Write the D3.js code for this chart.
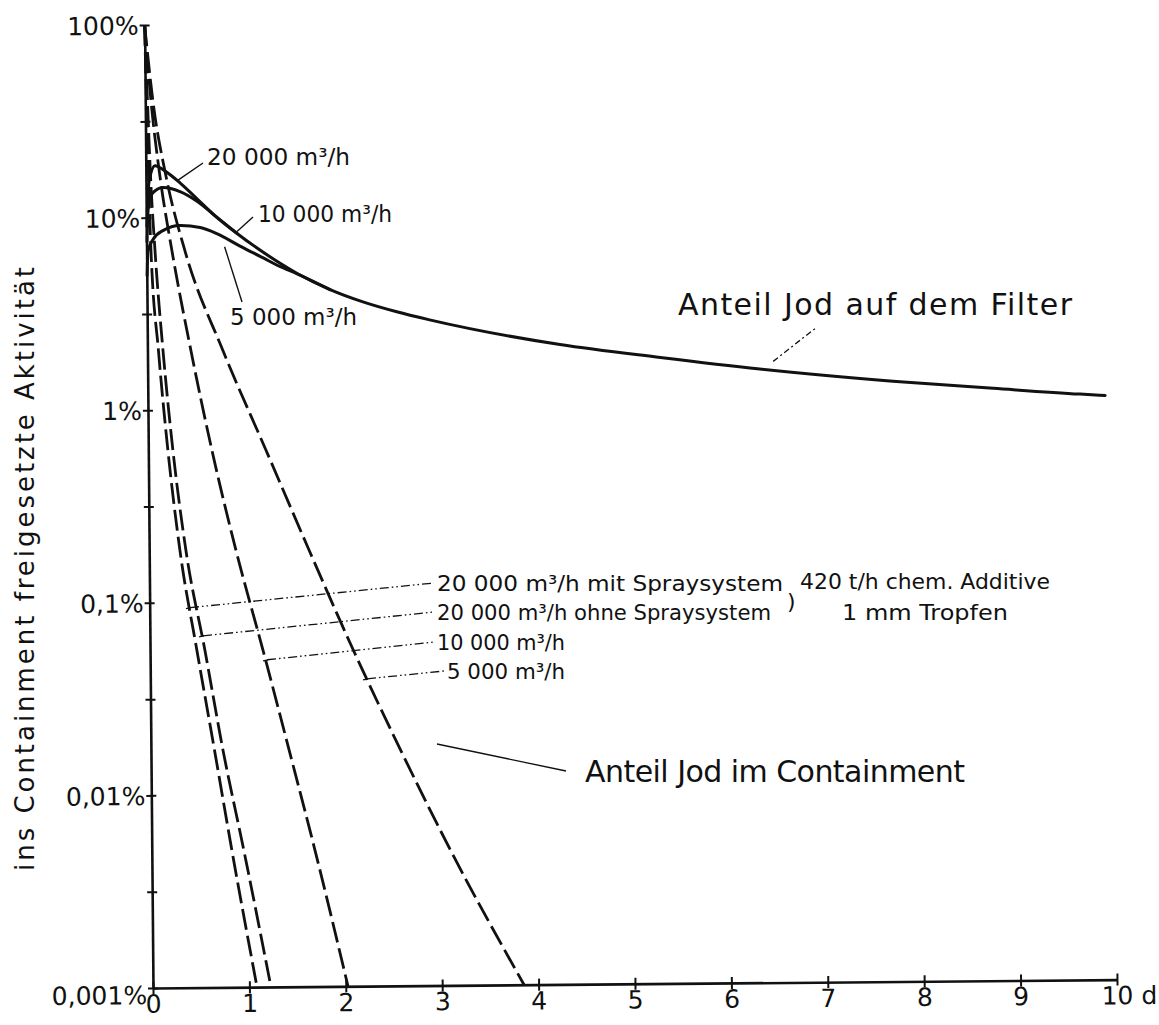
<!DOCTYPE html>
<html>
<head>
<meta charset="utf-8">
<script src="https://cdn.jsdelivr.net/npm/d3@7"></script>
<style>
  html, body { margin: 0; padding: 0; background: #fff; }
  svg { display: block; }
  text { font-family: "DejaVu Sans", "Noto Sans", sans-serif; fill: #111; }
</style>
</head>
<body>
<svg id="chart" width="1159" height="1025"></svg>
<script>
// ---- axes -------------------------------------------------------------
const dayTicks = [0, 1, 2, 3, 4, 5, 6, 7, 8, 9, 10];
const decadeTicks = [0.001, 0.01, 0.1, 1, 10, 100];
const decadeLabels = ["0,001%", "0,01%", "0,1%", "1%", "10%", "100%"];
const halfDecadeTicks = [0.00316, 0.0316, 0.316, 3.16, 31.6];

// ---- iodine collected on the filter (% of released activity) -----------
const filter20000Days = [0.005, 0.02, 0.042, 0.095, 0.2, 0.353, 0.528, 0.69, 0.94, 1.21, 1.38, 1.56, 1.9, 2.24, 2.59, 2.93, 4.28, 5.32, 6.35, 7.73, 8.77, 9.67, 9.93];
const filter20000Pct  = [9.0, 13.5, 16.3, 18.6, 17.4, 15.1, 12.45, 10.4, 8.2, 6.53, 5.73, 5.05, 4.15, 3.57, 3.16, 2.86, 2.1, 1.78, 1.535, 1.31, 1.19, 1.1, 1.08];

const filter10000Days = [0.005, 0.02, 0.062, 0.176, 0.352, 0.528, 0.734, 0.94];
const filter10000Pct  = [7.5, 11.0, 13.3, 14.3, 13.6, 12.1, 9.95, 8.2];

const filter5000Days = [0.003, 0.015, 0.068, 0.172, 0.35, 0.557, 0.73, 0.97, 1.21, 1.38, 1.56, 1.9];
const filter5000Pct  = [5.0, 6.7, 7.7, 8.55, 9.06, 8.83, 8.2, 7.05, 6.1, 5.5, 5.03, 4.15];

// ---- iodine remaining airborne in the containment ----------------------
// days after which each case falls to the given level
const containLevels = [100, 40, 16.3, 6.67, 2.02, 0.612, 0.185, 0.056, 0.017, 0.0051, 0.001];
const containSprayDays   = [0, 0.013, 0.027, 0.046, 0.115, 0.204, 0.32, 0.487, 0.66, 0.832, 1.079];
const contain20000Days   = [0, 0.023, 0.048, 0.088, 0.162, 0.256, 0.382, 0.57, 0.748, 0.956, 1.224];
const contain10000Days   = [0, 0.06, 0.146, 0.264, 0.452, 0.661, 0.901, 1.172, 1.433, 1.693, 2.023];
const contain5000Days    = [0, 0.08, 0.209, 0.399, 0.784, 1.221, 1.658, 2.106, 2.584, 3.093, 3.849];

// ---- layout -----------------------------------------------------------
const svg = d3.select("#chart");
const x0 = 153, y0 = 988;
const x = d3.scaleLinear().domain([0, 10]).range([x0, 1117]);
const y = d3.scaleLog().domain([0.001, 100]).range([y0, 25]);
const tilt = -0.5;                       // the drawing sits slightly askew on the sheet
const rad = tilt * Math.PI / 180;
function toScreen(t, v) {
  const ux = x(t) - x0, uy = y(v) - y0;
  return [x0 + ux * Math.cos(rad) - uy * Math.sin(rad),
          y0 + ux * Math.sin(rad) + uy * Math.cos(rad)];
}

const plot = svg.append("g").attr("transform", `rotate(${tilt},${x0},${y0})`);

// y axis with "+" ticks at decades and half decades
const yAxis = d3.axisLeft(y)
  .tickValues(decadeTicks.concat(halfDecadeTicks))
  .tickSizeInner(5).tickSizeOuter(0).tickPadding(1)
  .tickFormat(d => { const i = decadeTicks.indexOf(d); return i >= 0 ? decadeLabels[i] : ""; });
const gy = plot.append("g").attr("transform", `translate(${x0},0)`).call(yAxis);
gy.select(".domain").attr("stroke", "#111").attr("stroke-width", 2.6);
gy.selectAll(".tick line").attr("x1", 5).attr("x2", -5).attr("stroke", "#111").attr("stroke-width", 2);
gy.selectAll(".tick text")
  .attr("font-family", "DejaVu Sans, sans-serif").attr("font-size", 25).attr("fill", "#111")
  .attr("dy", "0.36em");
gy.selectAll(".tick text").filter(d => d === 0.001).attr("dy", "0.62em");

// x axis in days
const xAxis = d3.axisBottom(x)
  .tickValues(dayTicks)
  .tickSizeInner(6).tickSizeOuter(0).tickPadding(2)
  .tickFormat(d => d === 10 ? "10 d" : String(d));
const gx = plot.append("g").attr("transform", `translate(0,${y0})`).call(xAxis);
gx.select(".domain").attr("stroke", "#111").attr("stroke-width", 2.6);
gx.selectAll(".tick line").attr("y1", -6).attr("y2", 6).attr("stroke", "#111").attr("stroke-width", 2);
gx.selectAll(".tick text")
  .attr("font-family", "DejaVu Sans, sans-serif").attr("font-size", 25).attr("fill", "#111")
  .attr("y", 7);
gx.selectAll(".tick text").filter(d => d === 10).attr("text-anchor", "start").attr("x", -16);

// ---- curves -----------------------------------------------------------
const line = d3.line().x(d => x(d[0])).y(d => y(d[1])).curve(d3.curveMonotoneX);

const solid = [
  d3.zip(filter20000Days, filter20000Pct),
  d3.zip(filter10000Days, filter10000Pct),
  d3.zip(filter5000Days, filter5000Pct)
];
plot.append("g").selectAll("path").data(solid).join("path")
  .attr("d", line).attr("fill", "none").attr("stroke", "#111")
  .attr("stroke-width", 3).attr("stroke-linecap", "round").attr("stroke-linejoin", "round");

const dashed = [containSprayDays, contain20000Days, contain10000Days, contain5000Days]
  .map(days => d3.zip(days, containLevels));
plot.append("g").selectAll("path").data(dashed).join("path")
  .attr("d", line).attr("fill", "none").attr("stroke", "#111")
  .attr("stroke-width", 2.8).attr("stroke-dasharray", "21,6");

// ---- annotations ------------------------------------------------------
const notes = svg.append("g");

function label(px, py, str, size, len) {
  const t = notes.append("text").attr("x", px).attr("y", py).attr("font-size", size).text(str);
  if (len) t.attr("textLength", len).attr("lengthAdjust", "spacingAndGlyphs");
  return t;
}
function leader(from, to, dash, width) {
  notes.append("line")
    .attr("x1", from[0]).attr("y1", from[1]).attr("x2", to[0]).attr("y2", to[1])
    .attr("stroke", "#111").attr("stroke-width", width || 1.4)
    .attr("stroke-dasharray", dash || null);
}

// filter flow labels
label(207, 165, "20 000 m³/h", 23, 143);
leader(toScreen(0.333, 15.6), [203, 163]);
label(258, 222, "10 000 m³/h", 23, 134);
leader(toScreen(0.94, 8.4), [253, 217]);
label(230, 325, "5 000 m³/h", 23, 127);
leader(toScreen(0.81, 7.0), [242, 302]);

// containment case labels
const dashDotDot = "9,3,1.6,3,1.6,3";
const starts = [toScreen(0.418, 0.094), toScreen(0.551, 0.067), toScreen(1.213, 0.050), toScreen(2.248, 0.0394)];
const ends = [[434, 583], [434, 612], [434, 642], [444, 671]];
starts.forEach((s, i) => {
  leader(s, ends[i], dashDotDot, 1.3);
  leader([s[0] - 4, s[1] + 1], [s[0] + 1, s[1]], null, 1.3);   // small hook at the curve
});
label(437, 591, "20 000 m³/h mit Spraysystem", 22, 346);
label(437, 620, "20 000 m³/h ohne Spraysystem", 22, 334);
label(437, 650, "10 000 m³/h", 22, 128);
label(447, 679, "5 000 m³/h", 22, 118);
label(787, 609, ")", 22);
label(800, 589, "420 t/h chem. Additive", 22, 250);
label(842, 620, "1 mm Tropfen", 22, 166);

// curve family labels
notes.append("text").attr("x", 678).attr("y", 315).attr("font-size", 30)
  .attr("textLength", 394).attr("lengthAdjust", "spacing").text("Anteil Jod auf dem Filter");
leader(toScreen(6.49, 1.68), [817, 327], "6,3,2,3", 1.3);
notes.append("text").attr("x", 585).attr("y", 782).attr("font-size", 30)
  .attr("textLength", 380).attr("lengthAdjust", "spacing").text("Anteil Jod im Containment");
leader([437, 744], [566, 771], null, 1.3);

// y axis title
svg.append("text")
  .attr("transform", "translate(34,569) rotate(-90)")
  .attr("text-anchor", "middle")
  .attr("font-family", "DejaVu Sans Mono, Liberation Mono, monospace")
  .attr("font-size", 26)
  .attr("textLength", 604).attr("lengthAdjust", "spacing")
  .text("ins Containment freigesetzte Aktivität");
</script>
</body>
</html>
